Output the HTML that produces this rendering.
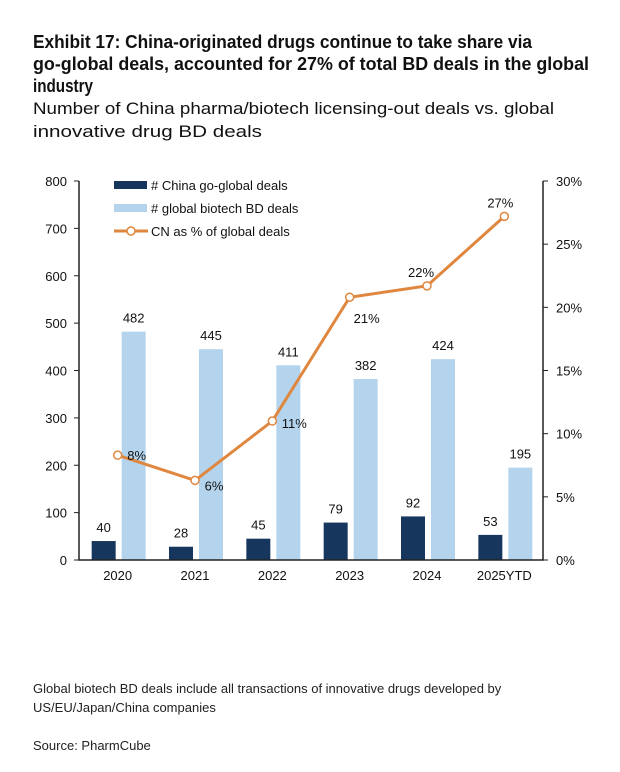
<!DOCTYPE html>
<html><head><meta charset="utf-8"><style>
body{margin:0;background:#fff;}
svg{display:block;font-family:"Liberation Sans",Arial,sans-serif;}
</style></head><body>
<svg id="chart" width="620" height="772" viewBox="0 0 620 772">
<g font-weight="bold" font-size="18" fill="#111">
<text x="33" y="48" textLength="499" lengthAdjust="spacingAndGlyphs">Exhibit 17: China-originated drugs continue to take share via</text>
<text x="33" y="70" textLength="556" lengthAdjust="spacingAndGlyphs">go-global deals, accounted for 27% of total BD deals in the global</text>
<text x="33" y="92" textLength="60" lengthAdjust="spacingAndGlyphs">industry</text>
</g>
<g font-size="17" fill="#111">
<text x="33" y="114" textLength="521" lengthAdjust="spacingAndGlyphs">Number of China pharma/biotech licensing-out deals vs. global</text>
<text x="33" y="137" textLength="229" lengthAdjust="spacingAndGlyphs">innovative drug BD deals</text>
</g>
<g id="plot"></g>
<g font-size="13" fill="#222">
<text x="33" y="693">Global biotech BD deals include all transactions of innovative drugs developed by</text>
<text x="33" y="712">US/EU/Japan/China companies</text>
<text x="33" y="750">Source: PharmCube</text>
</g>
</svg>
<script>
const categories=["2020","2021","2022","2023","2024","2025YTD"];
const chinaDeals=[40,28,45,79,92,53];
const globalDeals=[482,445,411,382,424,195];
const cnShare=[8.3,6.3,11.0,20.8,21.7,27.2];
const shareLabels=["8%","6%","11%","21%","22%","27%"];
const leftTicks=[0,100,200,300,400,500,600,700,800];
const rightTicks=[0,5,10,15,20,25,30];

const NS="http://www.w3.org/2000/svg";
const g=document.getElementById('plot');
const L=79,R=543,T=181,B=560;
const bw=(R-L)/categories.length;
const yL=v=>B-(v/800)*(B-T);
const yR=v=>B-(v/30)*(B-T);
const cx=i=>L+bw*(i+0.5);
function el(t,a,txt){const e=document.createElementNS(NS,t);for(const k in a)e.setAttribute(k,a[k]);if(txt!=null)e.textContent=txt;g.appendChild(e);return e;}

categories.forEach((c,i)=>{
 const d=el('rect',{x:cx(i)-26,y:yL(chinaDeals[i]),width:24,height:B-yL(chinaDeals[i]),fill:'#17365d'});
 
 
 const l=el('rect',{x:cx(i)+4,y:yL(globalDeals[i]),width:24,height:B-yL(globalDeals[i]),fill:'#b4d4ed'});
 
 
 const t1=el('text',{x:cx(i)-14,y:yL(chinaDeals[i])-9,'font-size':13,'text-anchor':'middle',fill:'#111'},chinaDeals[i]);
 
 
 const t2=el('text',{x:cx(i)+16,y:yL(globalDeals[i])-9,'font-size':13,'text-anchor':'middle',fill:'#111'},globalDeals[i]);
 
 
 const xl=el('text',{x:cx(i),y:B+20,'font-size':13,'text-anchor':'middle',fill:'#111'},c);
 
 
});
// axes
const ax=el('path',{d:`M${L},${T}V${B}H${R}V${T}`,stroke:'#222','stroke-width':1.5,fill:'none'});


leftTicks.forEach(v=>{
 el('line',{x1:L-5,x2:L,y1:yL(v),y2:yL(v),stroke:'#222'});
 const t=el('text',{x:L-12,y:yL(v)+5,'font-size':13,'text-anchor':'end',fill:'#111'},v);
 
 
});
rightTicks.forEach(v=>{
 el('line',{x1:R,x2:R+5,y1:yR(v),y2:yR(v),stroke:'#222'});
 const t=el('text',{x:R+13,y:yR(v)+5,'font-size':13,fill:'#111'},v+'%');
 
 
});
// line
const pts=cnShare.map((v,i)=>cx(i)+','+yR(v)).join(' ');
const pl=el('polyline',{points:pts,fill:'none',stroke:'#e0873f','stroke-width':3});


const off=[[19,5],[19,10],[22,7],[17,26],[-6,-9],[-4,-9]];
cnShare.forEach((v,i)=>{
 const c=el('circle',{cx:cx(i),cy:yR(v),r:4,fill:'#fff',stroke:'#e0873f','stroke-width':1.5});
 
 
 const t=el('text',{x:cx(i)+off[i][0],y:yR(v)+off[i][1],'font-size':13,'text-anchor':'middle',fill:'#111'},shareLabels[i]);
 
 
});
// legend
const lg=[['#17365d','# China go-global deals',0],['#b4d4ed','# global biotech BD deals',0],['#e0873f','CN as % of global deals',1]];
lg.forEach((d,i)=>{
 const y=185+i*23;
 if(d[2]){el('line',{x1:114,x2:148,y1:y,y2:y,stroke:d[0],'stroke-width':3});el('circle',{cx:131,cy:y,r:4,fill:'#fff',stroke:d[0],'stroke-width':1.5});}
 else el('rect',{x:114,y:y-4,width:33,height:8,fill:d[0]});
 const t=el('text',{x:151,y:y+5,'font-size':13,fill:'#111'},d[1]);
 
 
});
</script>
</body></html>
